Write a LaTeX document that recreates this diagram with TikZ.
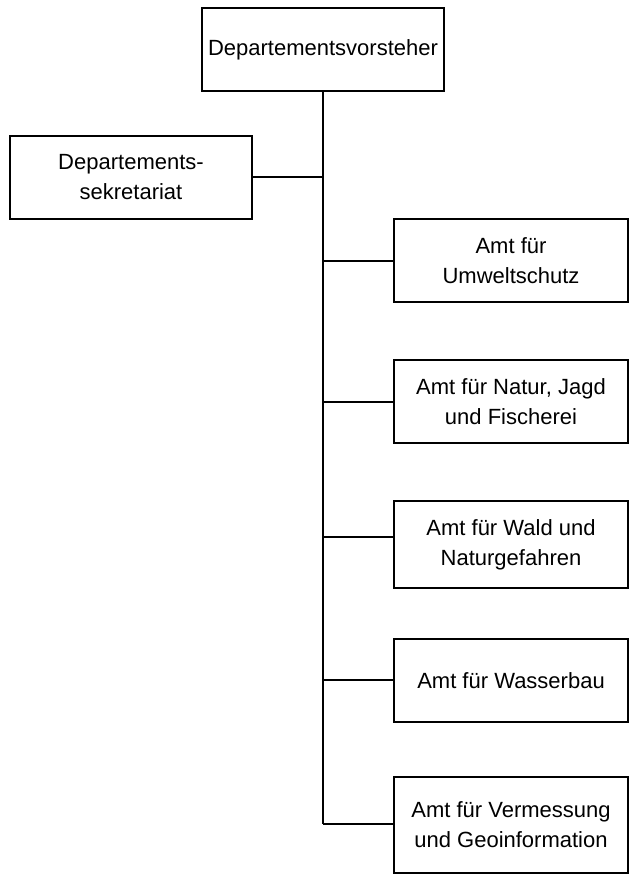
\documentclass[tikz,border=0pt]{standalone}
\usepackage{fontspec}
\setmainfont{Liberation Sans}
\begin{document}
\begin{tikzpicture}[x=1pt,y=-1pt,
  orgbox/.style={draw, line width=2pt, inner sep=0pt, align=center,
    font=\fontsize{22}{30}\selectfont},
  link/.style={line width=2pt}]
\useasboundingbox (0,0) rectangle (629,874);
\node[orgbox, minimum width=242pt, minimum height=83pt] (top) at (323,49.5) {Departementsvorsteher};
\node[orgbox, minimum width=242pt, minimum height=83pt] (sek) at (131,177.5) {Departements-\\sekretariat};
\node[orgbox, minimum width=234pt, minimum height=83pt] (umw) at (511,260.5) {Amt für\\Umweltschutz};
\node[orgbox, minimum width=234pt, minimum height=83pt] (nat) at (511,401.5) {Amt für Natur, Jagd\\und Fischerei};
\node[orgbox, minimum width=234pt, minimum height=87pt] (wald) at (511,544.5) {Amt für Wald und\\Naturgefahren};
\node[orgbox, minimum width=234pt, minimum height=83pt] (wass) at (511,680.5) {Amt für Wasserbau};
\node[orgbox, minimum width=234pt, minimum height=96pt] (verm) at (511,825) {Amt für Vermessung\\und Geoinformation};
\coordinate (j1) at (323,177);
\coordinate (j2) at (323,261);
\coordinate (j3) at (323,402);
\coordinate (j4) at (323,537);
\coordinate (j5) at (323,680);
\coordinate (j6) at (323,824);
\draw[link] (top.south) -- (j6);
\draw[link] (j1) -- (j1 -| sek.east);
\draw[link] (j2) -- (j2 -| umw.west);
\draw[link] (j3) -- (j3 -| nat.west);
\draw[link] (j4) -- (j4 -| wald.west);
\draw[link] (j5) -- (j5 -| wass.west);
\draw[link] (j6) -- (j6 -| verm.west);
\end{tikzpicture}
\end{document}
